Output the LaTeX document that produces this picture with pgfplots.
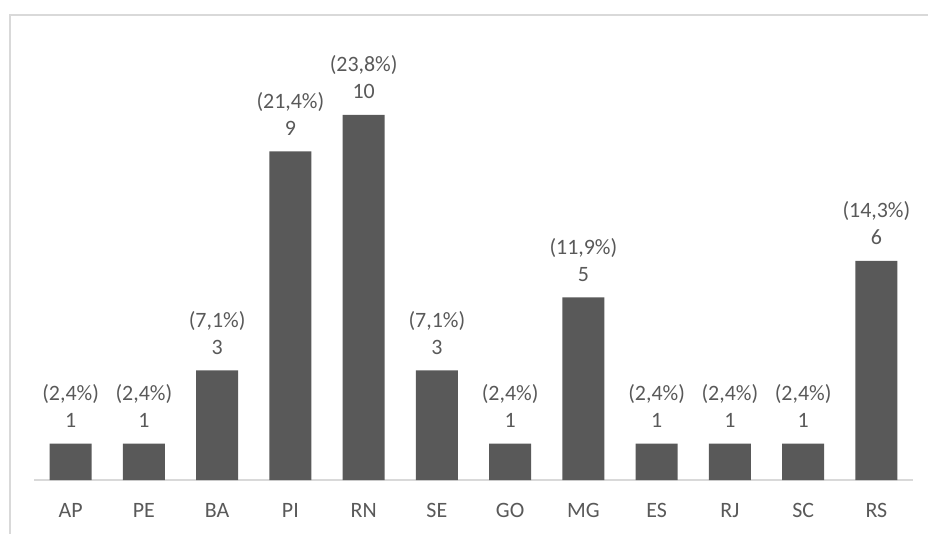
\documentclass[border=0pt]{standalone}
\usepackage{fontspec}
\setmainfont{Carlito}
\usepackage{pgfplots}
\pgfplotsset{compat=1.18}
\usepackage{pgfplotstable}
\definecolor{barc}{HTML}{595959}
\definecolor{linec}{HTML}{D9D9D9}
\definecolor{txt}{HTML}{595959}

\pgfplotstableread{
x y pct
0 1 2,4
1 1 2,4
2 3 7,1
3 9 21,4
4 10 23,8
5 3 7,1
6 1 2,4
7 5 11,9
8 1 2,4
9 1 2,4
10 1 2,4
11 6 14,3
}\states

\begin{document}
\begin{tikzpicture}
\begin{axis}[
  scale only axis, width=879bp, height=438bp,
  xmin=-0.5, xmax=11.5, ymin=0, ymax=12,
  axis x line=bottom, axis y line=none,
  x axis line style={draw=linec, line width=1.5bp, -},
  xtick={0,...,11},
  xticklabels={AP,PE,BA,PI,RN,SE,GO,MG,ES,RJ,SC,RS},
  xtick style={draw=none}, major tick length=0pt,
  xticklabel style={anchor=base, yshift=-37bp, font=\fontsize{22}{26}\selectfont, text=txt},
  ytick=\empty,
  clip=false,
  /pgf/number format/assume math mode=true,
  ybar, bar width=42bp,
  point meta=explicit symbolic,
  visualization depends on={y \as \cnt},
  nodes near coords={(\pgfplotspointmeta\%)\\\pgfmathprintnumber[fixed,precision=0]{\cnt}},
  nodes near coords style={font=\fontsize{22}{27}\selectfont, text=txt, align=center, inner sep=0pt, anchor=south, yshift=16bp},
]
\addplot[fill=barc, draw=none] table[x=x, y=y, meta=pct] {\states};
\end{axis}
\draw[linec, line width=1.5bp] (-24bp,-70bp) -- (-24bp,465bp) -- (910bp,465bp);
\pgfresetboundingbox
\path[use as bounding box] (-34bp,-54bp) rectangle (894bp,480bp);
\end{tikzpicture}
\end{document}
